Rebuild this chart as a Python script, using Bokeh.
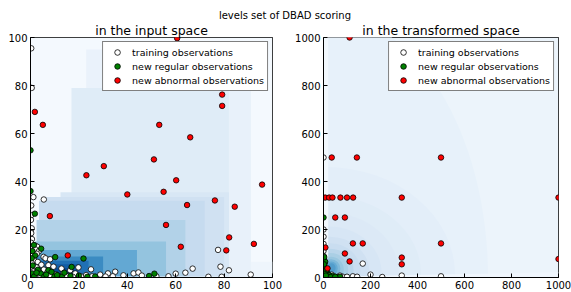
import numpy as np
from bokeh.plotting import figure
from bokeh.models import (ColumnDataSource, LinearColorMapper, FixedTicker, Legend,
                          LegendItem, Div)
from bokeh.layouts import row, column
from bokeh.transform import transform
from bokeh.embed import file_html
from bokeh.resources import INLINE

FONT = "DejaVu Sans"

# ---------------- data: input space ----------------
in_train_x = [0.3, 0.5, 1.2, 5.5, 0.3, 0.3, 0.2, 0.5, 0.3, 0.6, 0.2, 1.9, 0.5, 2.8, 1.9, 3.5,
              0.3, 2.6, 0.8, 5.4, 6.2, 8.1, 1.5, 3.0, 0.5, 7.4, 4.5, 9.5, 2.5, 12.8, 5.5, 16.4,
              19.8, 3.5, 7.0, 18.5, 13.6, 10.5, 25.0, 28.8, 32.0, 35.0, 38.4, 42.6, 44.6, 46.0,
              25.5, 12.0, 21.0, 31.0, 34.0, 1.0, 2.0, 4.0, 6.0, 8.0, 15.0, 17.5, 23.0, 52.0,
              57.0, 60.0, 64.0, 67.0, 73.5, 77.5, 78.5, 79.0, 82.0, 91.0, 0.3, 0.2, 1.2]
in_train_y = [95.5, 79.0, 33.5, 32.5, 30.0, 26.0, 24.0, 20.5, 18.5, 16.0, 14.5, 13.3, 12.5, 12.8,
              11.8, 11.0, 10.5, 9.9, 9.0, 8.6, 8.0, 7.6, 7.2, 6.5, 6.0, 5.1, 5.3, 4.5, 4.2, 3.7,
              3.3, 3.0, 4.2, 2.6, 2.2, 1.7, 1.7, 1.3, 3.4, 1.2, 1.7, 2.4, 0.9, 1.7, 2.1, 0.8,
              0.5, 0.4, 0.4, 0.4, 0.5, 1.2, 0.4, 1.0, 0.5, 0.8, 0.6, 0.3, 1.0, 0.5,
              0.5, 1.6, 2.0, 3.7, 0.3, 11.5, 4.5, 0.3, 3.0, 1.2, 3.0, 1.5, 2.5]
in_reg_x = [0.0, 0.0, 1.8, 4.4, 1.9, 10.2, 21.9, 17.0, 0.9, 7.4, 8.7, 0.7, 4.2, 1.5, 5.7, 9.9,
            13.0, 16.5, 26.7, 49.0, 51.2, 0.8, 1.4, 3.0, 11.0, 14.0, 2.5, 6.5, 0.5, 20.0, 23.5]
in_reg_y = [53.0, 36.0, 26.6, 12.0, 9.2, 8.5, 7.9, 4.4, 5.0, 3.0, 2.3, 1.7, 1.7, 0.4, 0.4, 0.4,
            0.4, 0.6, 0.4, 0.6, 1.6, 11.0, 13.5, 3.2, 1.0, 2.0, 2.0, 1.2, 8.0, 0.8, 0.3]
in_abn_x = [60.6, 79.2, 79.2, 1.8, 5.1, 53.2, 66.0, 51.0, 30.3, 23.1, 60.2, 95.7, 40.0, 55.0,
            64.7, 76.2, 84.4, 8.0, 56.0, 82.1, 92.3, 62.1, 80.9, 15.4]
in_abn_y = [99.7, 76.2, 71.5, 69.0, 63.6, 63.6, 58.4, 49.2, 46.4, 42.6, 40.5, 38.7, 34.6, 35.7,
            30.2, 32.1, 29.5, 25.6, 21.9, 16.7, 14.0, 12.8, 11.3, 9.2]

# level-set regions (input space)
lev_in_left = [0.0, 1.0, 23.0, 17.0, 17.0, 12.4, 5.5, 3.5, 2.5, 1.8, 1.2, 1.0, 3.0, 7.0, 9.0]
lev_in_right = [100.0, 100.0, 91.0, 91.0, 82.0, 82.0, 80.0, 72.0, 64.0, 56.0, 44.0, 30.0, 24.0, 20.0, 17.0]
lev_in_bottom = [0.0, 0.0, 0.0, 0.0, 0.0, 0.5, 0.5, 0.5, 0.5, 0.5, 0.5, 0.5, 0.5, 0.8, 1.0]
lev_in_top = [100.0, 6.6, 95.0, 79.0, 79.0, 35.5, 33.5, 32.0, 24.0, 15.0, 11.5, 8.7, 7.0, 5.5, 4.0]
lev_in_level = [0.15, 0.35, 0.55, 0.6, 0.95, 1.25, 1.6, 2.0, 2.5, 3.2, 4.2, 5.2, 6.0, 6.6, 7.1]

# ---------------- data: transformed space ----------------
tr_train_x = [0, 0, 0, 0, 0, 0, 0, 5, 3, 8, 12, 20, 3, 15, 30, 25, 45, 60, 80, 100, 125, 143,
              167, 200, 250, 333, 500, 50, 70, 10, 2, 35]
tr_train_y = [500, 200, 170, 140, 111, 90, 75, 60, 45, 30, 22, 15, 10, 8, 6, 3, 4, 2, 4, 3, 5, 3,
              58, 12, 2, 8, 5, 1, 8, 3, 25, 12]
tr_reg_x = [0, 7, 7, 15, 24, 38, 70, 4, 2, 12, 5, 18, 30, 50, 10, 3]
tr_reg_y = [250, 66, 38, 17, 10, 6, 3, 3, 55, 30, 15, 4, 2, 3, 8, 85]
tr_abn_x = [111, 35, 142, 500, 7, 24, 38, 72, 100, 126, 333, 1000, 50, 91, 125, 167, 500, 91,
            333, 111, 333, 1000, 8, 17]
tr_abn_y = [1000, 500, 500, 500, 333, 333, 333, 333, 333, 333, 333, 333, 250, 250, 142, 142,
            142, 100, 83, 67, 55, 77, 125, 38]

# level-set blobs (transformed space)
lev_tr_x = [0, 10, 15, 20, 22, 25, 27, 28, 30, 31, 32, 33, 34]
lev_tr_y = [0, 10, 15, 20, 22, 25, 28, 30, 32, 34, 36, 38, 40]
lev_tr_w = [1400, 1100, 800, 600, 450, 340, 260, 200, 150, 110, 80, 55, 35]
lev_tr_h = [2200, 900, 650, 500, 380, 290, 230, 180, 140, 105, 80, 58, 38]
lev_tr_level = [0.65, 0.8, 0.95, 1.1, 1.3, 1.6, 1.9, 2.3, 2.7, 3.1, 3.6, 4.1, 4.6]
tr_bg_left, tr_bg_right, tr_bg_bottom, tr_bg_top, tr_bg_level = [0], [1000], [0], [1000], [0.45]
tr_strip_left, tr_strip_right, tr_strip_bottom, tr_strip_top, tr_strip_level = [0], [20], [80], [1000], [0.2]
tr_wedge_x = [0, 1000, 1000, 0]
tr_wedge_y = [0, 0, 22, 3]
tr_wedge_level = [0.3]

# ---------------- styling helpers ----------------
anchors = ["#f7fbff", "#deebf7", "#c6dbef", "#9ecae1", "#6baed6",
           "#4292c6", "#2171b5", "#08519c", "#08306b"]


def _rgb(h):
    return [int(h[i:i + 2], 16) for i in (1, 3, 5)]


def make_palette(n=256):
    a = np.array([_rgb(c) for c in anchors], dtype=float)
    t = np.linspace(0, len(anchors) - 1, n)
    out = []
    for v in t:
        i = min(int(v), len(anchors) - 2)
        f = v - i
        c = a[i] * (1 - f) + a[i + 1] * f
        out.append("#%02x%02x%02x" % tuple(int(round(x)) for x in c))
    return out


mapper = LinearColorMapper(palette=make_palette(), low=0, high=8)


def make_fig(title, xmax, ticks, fw, fh, bl, br):
    p = figure(frame_width=fw, frame_height=fh, x_range=(0, xmax), y_range=(0, xmax),
               output_backend="svg", toolbar_location=None,
               min_border_left=bl, min_border_right=br, min_border_top=0, min_border_bottom=0)
    p.title.text = title
    p.title.text_font = FONT
    p.title.text_font_size = "12.5px"
    p.title.text_font_style = "normal"
    p.title.text_color = "black"
    p.title.align = "center"
    p.title.standoff = 0
    p.grid.visible = False
    p.outline_line_color = "black"
    p.outline_line_width = 1
    for ax in (p.xaxis[0], p.yaxis[0]):
        ax.ticker = FixedTicker(ticks=ticks)
        ax.major_tick_in = 4
        ax.major_tick_out = 0
        ax.minor_tick_line_color = None
        ax.axis_line_color = "black"
        ax.major_tick_line_color = "black"
        ax.major_label_text_font = FONT
        ax.major_label_text_font_size = "10px"
        ax.major_label_text_color = "black"
        ax.major_label_standoff = 3
    p.background_fill_color = "#f7fbff"
    p.border_fill_color = "white"
    return p


def add_points(p, tx, ty, rx, ry, ax_, ay):
    r1 = p.scatter(tx, ty, size=5.5, fill_color="white", line_color="black", line_width=0.8)
    r2 = p.scatter(rx, ry, size=5.5, fill_color="green", line_color="black", line_width=0.8)
    r3 = p.scatter(ax_, ay, size=5.5, fill_color="red", line_color="black", line_width=0.8)
    leg = Legend(items=[LegendItem(label="training observations", renderers=[r1]),
                        LegendItem(label="new regular observations", renderers=[r2]),
                        LegendItem(label="new abnormal observations", renderers=[r3])],
                 location="top_right")
    leg.label_text_font = FONT
    leg.label_text_font_size = "9.5px"
    leg.label_text_color = "black"
    leg.border_line_color = "black"
    leg.border_line_width = 1
    leg.background_fill_color = "white"
    leg.background_fill_alpha = 1
    leg.margin = 4
    leg.padding = 3
    leg.spacing = 0
    leg.glyph_width = 22
    leg.glyph_height = 14
    leg.label_height = 14
    leg.label_standoff = 4
    p.add_layout(leg)


def add_quads(p, left, right, bottom, top, lvl):
    src = ColumnDataSource(dict(left=left, right=right, bottom=bottom, top=top, lvl=lvl))
    p.quad(left="left", right="right", bottom="bottom", top="top", source=src,
           fill_color=transform("lvl", mapper), line_color=None)


# ---------------- left: input space ----------------
p1 = make_fig("in the input space", 100, [0, 20, 40, 60, 80, 100], 242, 240, 30, 20)
add_quads(p1, lev_in_left, lev_in_right, lev_in_bottom, lev_in_top, lev_in_level)
add_points(p1, in_train_x, in_train_y, in_reg_x, in_reg_y, in_abn_x, in_abn_y)

# ---------------- right: transformed space ----------------
p2 = make_fig("in the transformed space", 1000, [0, 200, 400, 600, 800, 1000], 235, 240, 28, 15)
add_quads(p2, tr_bg_left, tr_bg_right, tr_bg_bottom, tr_bg_top, tr_bg_level)
src_tr = ColumnDataSource(dict(x=lev_tr_x, y=lev_tr_y, w=lev_tr_w, h=lev_tr_h, lvl=lev_tr_level))
p2.ellipse(x="x", y="y", width="w", height="h", source=src_tr,
           fill_color=transform("lvl", mapper), line_color=None)
add_quads(p2, tr_strip_left, tr_strip_right, tr_strip_bottom, tr_strip_top, tr_strip_level)
p2.patches(xs="xs", ys="ys", source=ColumnDataSource(dict(xs=[tr_wedge_x], ys=[tr_wedge_y],
                                                          lvl=tr_wedge_level)),
           fill_color=transform("lvl", mapper), line_color=None)
add_points(p2, tr_train_x, tr_train_y, tr_reg_x, tr_reg_y, tr_abn_x, tr_abn_y)

title = Div(text="levels set of DBAD scoring", width=570, height=20, margin=(0, 0, 0, 0),
            styles={"font-family": FONT, "font-size": "10px", "text-align": "center",
                    "line-height": "12px", "padding-top": "10px", "width": "570px",
                    "color": "black", "box-sizing": "border-box"})

layout = column(title, row(p1, p2, spacing=0), spacing=0)

open("out.html", "w").write(file_html(layout, INLINE))
